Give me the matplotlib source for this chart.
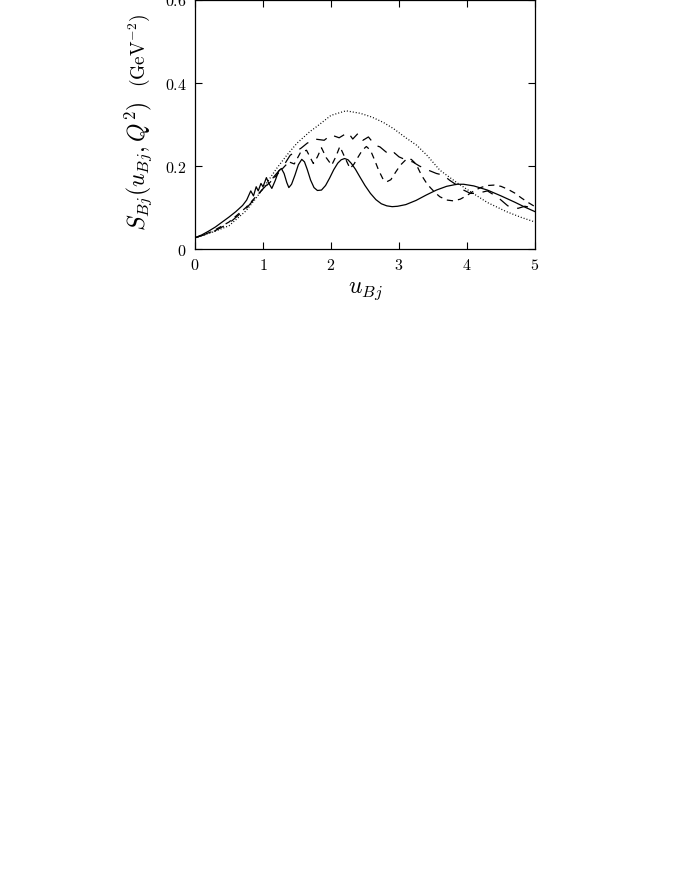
import numpy as np
import matplotlib
matplotlib.use("Agg")
import matplotlib.pyplot as plt

plt.rcParams['mathtext.fontset'] = 'cm'
plt.rcParams['font.family'] = 'serif'

# solid curve
u_solid = [0.0, 0.1, 0.2, 0.3, 0.4, 0.5, 0.6, 0.7, 0.76, 0.82, 0.86, 0.90, 0.93, 0.97,
           1.00, 1.05, 1.08, 1.13, 1.18, 1.23, 1.27, 1.31, 1.35, 1.38, 1.42, 1.47,
           1.52, 1.57, 1.61, 1.65, 1.70, 1.75, 1.80, 1.86, 1.92, 1.98, 2.04, 2.10,
           2.15, 2.20, 2.25, 2.30, 2.36, 2.42, 2.50, 2.58, 2.66, 2.74, 2.82, 2.90,
           2.98, 3.10, 3.25, 3.40, 3.55, 3.70, 3.85, 3.95, 4.10, 4.30, 4.50, 4.70,
           4.85, 5.00]
s_solid = [0.027, 0.034, 0.043, 0.053, 0.065, 0.077, 0.090, 0.105, 0.118, 0.140, 0.128,
           0.150, 0.140, 0.158, 0.150, 0.172, 0.160, 0.146, 0.165, 0.188, 0.194, 0.182,
           0.160, 0.148, 0.156, 0.178, 0.203, 0.216, 0.210, 0.192, 0.166, 0.148, 0.141,
           0.142, 0.153, 0.171, 0.191, 0.207, 0.215, 0.218, 0.215, 0.206, 0.192, 0.175,
           0.153, 0.134, 0.119, 0.109, 0.104, 0.102, 0.103, 0.107, 0.117, 0.130, 0.142,
           0.151, 0.156, 0.156, 0.152, 0.142, 0.128, 0.113, 0.101, 0.090]

# short-dashed curve
u_short = [0.0, 0.25, 0.5, 0.75, 1.0, 1.1, 1.2, 1.3, 1.38, 1.46, 1.55, 1.64, 1.69,
           1.74, 1.80, 1.86, 1.93, 2.01, 2.07, 2.13, 2.20, 2.28, 2.34, 2.40, 2.46,
           2.52, 2.58, 2.64, 2.70, 2.76, 2.82, 2.88, 2.95, 3.02, 3.10, 3.18, 3.25,
           3.33, 3.40, 3.46, 3.53, 3.60, 3.70, 3.80, 3.90, 4.00, 4.10, 4.20, 4.30,
           4.40, 4.50, 4.60, 4.70, 4.80, 4.90, 5.00]
s_short = [0.027, 0.042, 0.065, 0.100, 0.145, 0.160, 0.178, 0.196, 0.210, 0.205,
           0.232, 0.238, 0.222, 0.206, 0.222, 0.244, 0.220, 0.202, 0.222, 0.247,
           0.222, 0.194, 0.205, 0.222, 0.238, 0.247, 0.238, 0.215, 0.190, 0.170,
           0.162, 0.167, 0.185, 0.202, 0.215, 0.216, 0.205, 0.178, 0.160, 0.148,
           0.136, 0.126, 0.118, 0.116, 0.120, 0.129, 0.140, 0.148, 0.153, 0.154,
           0.151, 0.144, 0.135, 0.123, 0.112, 0.102]

# long-dashed curve
u_long = [0.0, 0.25, 0.5, 0.75, 1.0, 1.1, 1.2, 1.3, 1.4, 1.56, 1.65, 1.76, 1.9, 2.0,
          2.12, 2.25, 2.32, 2.40, 2.47, 2.55, 2.65, 2.72, 2.80, 2.87, 2.93, 3.00,
          3.11, 3.20, 3.30, 3.43, 3.55, 3.65, 3.75, 3.85, 3.95, 4.05, 4.15, 4.30,
          4.45, 4.60, 4.75, 4.85, 5.00]
s_long = [0.027, 0.040, 0.062, 0.097, 0.145, 0.162, 0.182, 0.200, 0.226, 0.243,
          0.255, 0.265, 0.262, 0.275, 0.268, 0.281, 0.265, 0.279, 0.262, 0.270,
          0.250, 0.246, 0.235, 0.226, 0.232, 0.222, 0.214, 0.210, 0.200, 0.190,
          0.182, 0.178, 0.165, 0.154, 0.142, 0.134, 0.134, 0.140, 0.125, 0.104,
          0.098, 0.103, 0.098]

# dotted curve
u_dot = [0.0, 0.25, 0.5, 0.75, 0.9, 1.0, 1.1, 1.2, 1.35, 1.5, 1.69, 1.79, 2.0, 2.22,
         2.43, 2.6, 2.77, 2.92, 3.1, 3.26, 3.41, 3.6, 3.85, 4.09, 4.3, 4.58, 4.8, 5.0]
s_dot = [0.027, 0.040, 0.056, 0.092, 0.123, 0.146, 0.170, 0.194, 0.226, 0.255,
         0.283, 0.295, 0.322, 0.333, 0.327, 0.318, 0.305, 0.290, 0.268, 0.250,
         0.226, 0.190, 0.160, 0.134, 0.112, 0.090, 0.076, 0.065]

xticks = [0, 1, 2, 3, 4, 5]
yticks = [0, 0.2, 0.4, 0.6]
ytick_labels = ["0", "0.2", "0.4", "0.6"]

fig = plt.figure(figsize=(6.74, 8.72), dpi=100)
ax = fig.add_axes([195 / 674, 1 - 249 / 872, 340 / 674, 249 / 872])

lw = 0.9
ax.plot(u_solid, s_solid, color="black", lw=lw)
ax.plot(u_short, s_short, color="black", lw=lw, dashes=(5, 4))
ax.plot(u_long, s_long, color="black", lw=lw, dashes=(9, 7))
ax.plot(u_dot, s_dot, color="black", lw=lw, dashes=(0.8, 1.6))

ax.set_xlim(0, 5)
ax.set_ylim(0, 0.6)
ax.set_xticks(xticks)
ax.set_xticklabels(["$%d$" % t for t in xticks], fontsize=11.5)
ax.set_yticks(yticks)
ax.set_yticklabels(["$%s$" % t for t in ytick_labels], fontsize=11.5)
ax.tick_params(direction="in", length=5, width=0.8, top=True, right=True, pad=6)
for sp in ax.spines.values():
    sp.set_linewidth(0.9)

fig.text(365 / 674, 1 - 290 / 872, r"$u_{Bj}$", fontsize=17, ha="center", va="center")
fig.text(138 / 674, 1 - 166 / 872, r"$S_{Bj}(u_{Bj},Q^2)$", fontsize=17,
         rotation=90, ha="center", va="center")
fig.text(139 / 674, 1 - 50 / 872, r"$(\mathrm{GeV}^{-2})$", fontsize=14,
         rotation=90, ha="center", va="center")

fig.savefig("out.png", dpi=100)
